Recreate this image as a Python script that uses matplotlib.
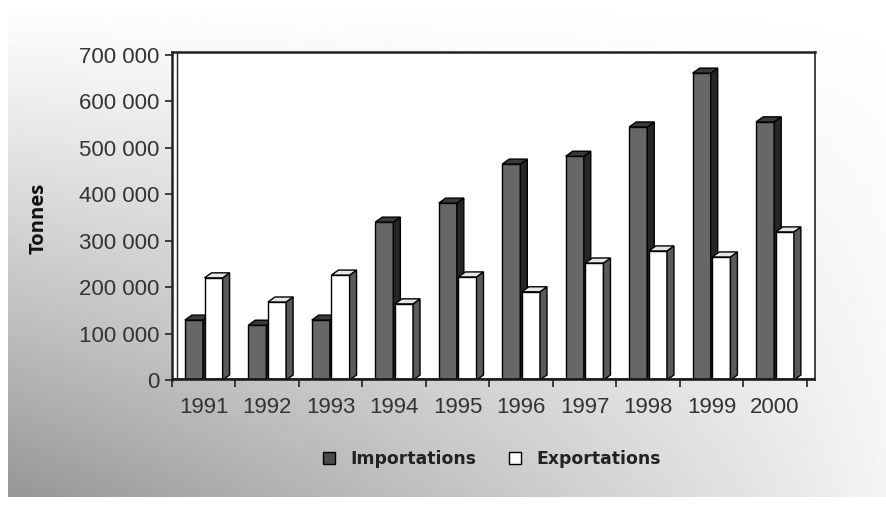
#!/usr/bin/env python3
"""Imports vs exports per year, drawn as pseudo-3D columns."""

import matplotlib.pyplot as plt
import numpy as np
from matplotlib.patches import Patch
from matplotlib.ticker import FuncFormatter, MultipleLocator

years = ["1991", "1992", "1993", "1994", "1995", "1996", "1997", "1998", "1999", "2000"]
importations = [129000, 118000, 129000, 340000, 381000, 465000, 482000, 545000, 661000, 556000]
exportations = [220000, 168000, 226000, 164000, 222000, 190000, 252000, 278000, 265000, 319000]

IMP_FRONT = "#676767"
IMP_SIDE = "#262626"
IMP_TOP = "#3a3a3a"
EXP_FRONT = "#ffffff"
EXP_SIDE = "#5a5a5a"
EXP_TOP = "#e6e6e6"

plt.rcParams["font.family"] = ["Liberation Sans", "DejaVu Sans"]

fig = plt.figure(figsize=(8.87, 5.05), dpi=100)

# shaded backdrop, darker towards the lower left
bg = fig.add_axes([8 / 887, 8 / 505, 879 / 887, 497 / 505], zorder=-10)
u = np.linspace(0, 1, 400)
v = np.linspace(0, 1, 300)
U, V = np.meshgrid(u, v)
dark = 0.37 * (1 - U) ** 0.9 * V ** 1.1 + 0.04 * V
bg.imshow(1 - dark, cmap="gray", vmin=0, vmax=1, aspect="auto",
          extent=(0, 1, 0, 1), origin="upper")
bg.set_axis_off()

ax = fig.add_axes([172 / 887, 125 / 505, 643 / 887, 328 / 505])
ax.set_facecolor("white")

x = np.arange(len(years))
width = 0.285
dx = 0.11       # depth offset along x (category units)
dy = 10800      # depth offset along y (tonnes)


def draw_columns(centers, values, front, side, top, z):
    ax.bar(centers, values, width=width, color=front, edgecolor="black",
           linewidth=1.0, zorder=z)
    for c, val in zip(centers, values):
        x0 = c - width / 2
        x1 = c + width / 2
        ax.fill([x1, x1 + dx, x1 + dx, x1], [0, dy, val + dy, val],
                facecolor=side, edgecolor="black", linewidth=1.0, zorder=z)
        ax.fill([x0, x0 + dx, x1 + dx, x1], [val, val + dy, val + dy, val],
                facecolor=top, edgecolor="black", linewidth=1.0, zorder=z)


draw_columns(x - 0.155, importations, IMP_FRONT, IMP_SIDE, IMP_TOP, 2)
draw_columns(x + 0.155, exportations, EXP_FRONT, EXP_SIDE, EXP_TOP, 3)

ax.set_xlim(-0.5, 9.63)
ax.set_ylim(0, 706500)

# floor edge and back wall
ax.axhline(0, color="#1a1a1a", linewidth=3.5, zorder=4)
ax.plot([-0.5 + 0.08, -0.5 + 0.08], [0, 706500], color="#222222",
        linewidth=1.0, zorder=1)

for side_name, spine in ax.spines.items():
    spine.set_color("#222222")
    spine.set_linewidth(1.8 if side_name in ("left", "top") else 1.2)

ax.yaxis.set_major_locator(MultipleLocator(100000))
ax.yaxis.set_major_formatter(
    FuncFormatter(lambda val, pos: f"{int(val):,}".replace(",", " ")))
ax.tick_params(axis="y", length=5, width=1.2, pad=4, labelsize=16,
               labelcolor="#333333", color="#222222")

ax.set_xticks(x)
ax.set_xticklabels(years)
ax.set_xticks(np.arange(-0.5, 10, 1), minor=True)
ax.tick_params(axis="x", which="major", length=0, pad=12, labelsize=16,
               labelcolor="#333333")
ax.tick_params(axis="x", which="minor", length=5, width=1.2, color="#222222")

fig.text(39 / 887, 1 - 218 / 505, "Tonnes", rotation=90, ha="center",
         va="center", fontsize=14.5, fontweight="bold", family="Open Sans",
         color="#111111")

handles = [
    Patch(facecolor="#4a4a4a", edgecolor="black", label="Importations"),
    Patch(facecolor="white", edgecolor="black", label="Exportations"),
]
fig.legend(handles=handles, loc="center", bbox_to_anchor=(492 / 887, 1 - 459 / 505),
           ncol=2, frameon=False, handlelength=0.7, handleheight=0.7,
           handletextpad=0.9, columnspacing=1.85, labelcolor="#222222",
           prop={"family": "DejaVu Sans", "weight": "bold", "size": 12.4})

fig.savefig("out.png", dpi=100)
